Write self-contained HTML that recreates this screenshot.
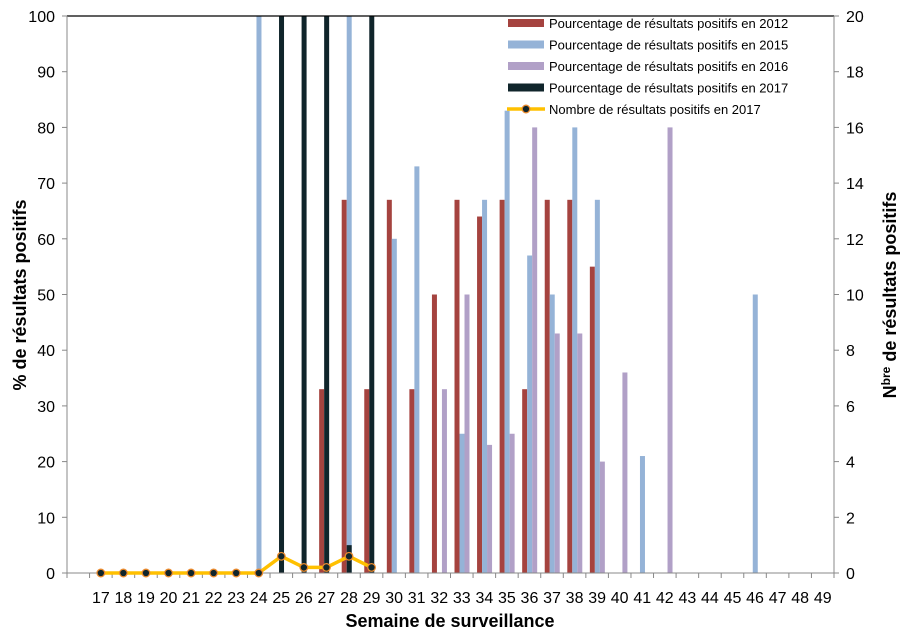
<!DOCTYPE html>
<html><head><meta charset="utf-8"><style>
body{margin:0;background:#fff;}
svg text{font-family:"Liberation Sans",sans-serif;}
</style></head><body>
<svg id="chart" width="900" height="631" viewBox="0 0 900 631" xmlns="http://www.w3.org/2000/svg">
<g id="bars"></g>
<g id="axes"></g>
<g id="line"></g>
<g id="legend"></g>
<text transform="translate(26,295) rotate(-90)" text-anchor="middle" font-size="18" font-weight="bold">% de résultats positifs</text>
<text transform="translate(896,295) rotate(-90)" text-anchor="middle" font-size="18" font-weight="bold">N<tspan font-size="12" dy="-6">bre</tspan><tspan dy="6"> de résultats positifs</tspan></text>
<text x="450" y="627" text-anchor="middle" font-size="18" font-weight="bold">Semaine de surveillance</text>
</svg>
<script>
const weeks = [17,18,19,20,21,22,23,24,25,26,27,28,29,30,31,32,33,34,35,36,37,38,39,40,41,42,43,44,45,46,47,48,49];
const pct2012 = [0,0,0,0,0,0,0,0,0,0,33,67,33,67,33,50,67,64,67,33,67,67,55,0,0,0,0,0,0,0,0,0,0];
const pct2015 = [0,0,0,0,0,0,0,100,0,0,0,100,0,60,73,0,25,67,83,57,50,80,67,0,21,0,0,0,0,50,0,0,0];
const pct2016 = [0,0,0,0,0,0,0,0,0,0,0,0,0,0,0,33,50,23,25,80,43,43,20,36,0,80,0,0,0,0,0,0,0];
const pct2017 = [0,0,0,0,0,0,0,0,100,100,100,5,100,0,0,0,0,0,0,0,0,0,0,0,0,0,0,0,0,0,0,0,0];
const count2017 = [0,0,0,0,0,0,0,0,0.6,0.2,0.2,0.6,0.2];
const yTicks = [0,10,20,30,40,50,60,70,80,90,100];
const y2Ticks = [0,2,4,6,8,10,12,14,16,18,20];

const NS="http://www.w3.org/2000/svg";
const L=67,R=834,T=16,B=573,nCat=34,cw=(R-L)/nCat;
const x=i=>L+(i+1)*cw;            // category start for week index i
const y=v=>B-(B-T)*v/100;
const y2=v=>B-(B-T)*v/20;
function mk(tag,attrs,parent){const e=document.createElementNS(NS,tag);for(const k in attrs)e.setAttribute(k,attrs[k]);parent.appendChild(e);return e;}
const bars=document.getElementById('bars'),axes=document.getElementById('axes'),line=document.getElementById('line'),legend=document.getElementById('legend');

const series=[[pct2012,'#A5433F',4,'bar-2012'],[pct2015,'#95B3D7',9,'bar-2015'],[pct2016,'#B1A0C7',14,'bar-2016'],[pct2017,'#10252B',9,'bar-2017']];
series.forEach(([vals,col,off,name])=>{
  vals.forEach((v,i)=>{ if(v<=0) return;
    const r=mk('rect',{x:x(i)+off,y:y(v),width:5,height:B-y(v),fill:col},bars);
    
    
  });
});
// axes
mk('line',{x1:L,y1:T,x2:R,y2:T,stroke:'#000','stroke-width':1.3},axes);
mk('line',{x1:L,y1:T,x2:L,y2:B,stroke:'#888'},axes);
mk('line',{x1:R,y1:T,x2:R,y2:B,stroke:'#888'},axes);
mk('line',{x1:L,y1:B,x2:R,y2:B,stroke:'#888'},axes);
yTicks.forEach(v=>{mk('line',{x1:L-5,y1:y(v),x2:L,y2:y(v),stroke:'#888'},axes);
  const t=mk('text',{x:55,y:y(v)+6,'text-anchor':'end','font-size':16},axes);t.textContent=v;
  
  });
y2Ticks.forEach(v=>{mk('line',{x1:R,y1:y2(v),x2:R+5,y2:y2(v),stroke:'#888'},axes);
  const t=mk('text',{x:846,y:y2(v)+6,'font-size':16},axes);t.textContent=v;
  
  });
for(let i=0;i<=nCat;i++) mk('line',{x1:L+i*cw,y1:B,x2:L+i*cw,y2:B+5,stroke:'#888'},axes);
weeks.forEach((w,i)=>{const t=mk('text',{x:x(i)+cw/2,y:603,'text-anchor':'middle','font-size':16},axes);t.textContent=w;
  
  });
// line
const pts=count2017.map((v,i)=>[x(i)+cw/2,y2(v)]);
mk('polyline',{points:pts.map(p=>p.join(',')).join(' '),fill:'none',stroke:'#FFC000','stroke-width':3.5,'stroke-linejoin':'round'},line);
pts.forEach(p=>{const c=mk('circle',{cx:p[0],cy:p[1],r:3.8,fill:'#10252B',stroke:'#E98A2E','stroke-width':1.3},line);
  
  });
// legend
const leg=[['#A5433F','Pourcentage de résultats positifs en 2012'],['#95B3D7','Pourcentage de résultats positifs en 2015'],['#B1A0C7','Pourcentage de résultats positifs en 2016'],['#10252B','Pourcentage de résultats positifs en 2017']];
leg.forEach(([c,t],k)=>{const yy=23+k*21.5;
  const g=mk('g',{},legend);
  
  
  mk('rect',{x:508,y:yy-4,width:36,height:8,fill:c},g);
  const tx=mk('text',{x:549,y:yy+5,'font-size':13},g);tx.textContent=t;});
const g5=mk('g',{},legend);


mk('line',{x1:507,y1:109,x2:545,y2:109,stroke:'#FFC000','stroke-width':3.5},g5);
mk('circle',{cx:526,cy:109,r:3.8,fill:'#10252B',stroke:'#E98A2E','stroke-width':1.3},g5);
const t5=mk('text',{x:549,y:114,'font-size':13},g5);t5.textContent='Nombre de résultats positifs en 2017';
</script>
</body></html>
